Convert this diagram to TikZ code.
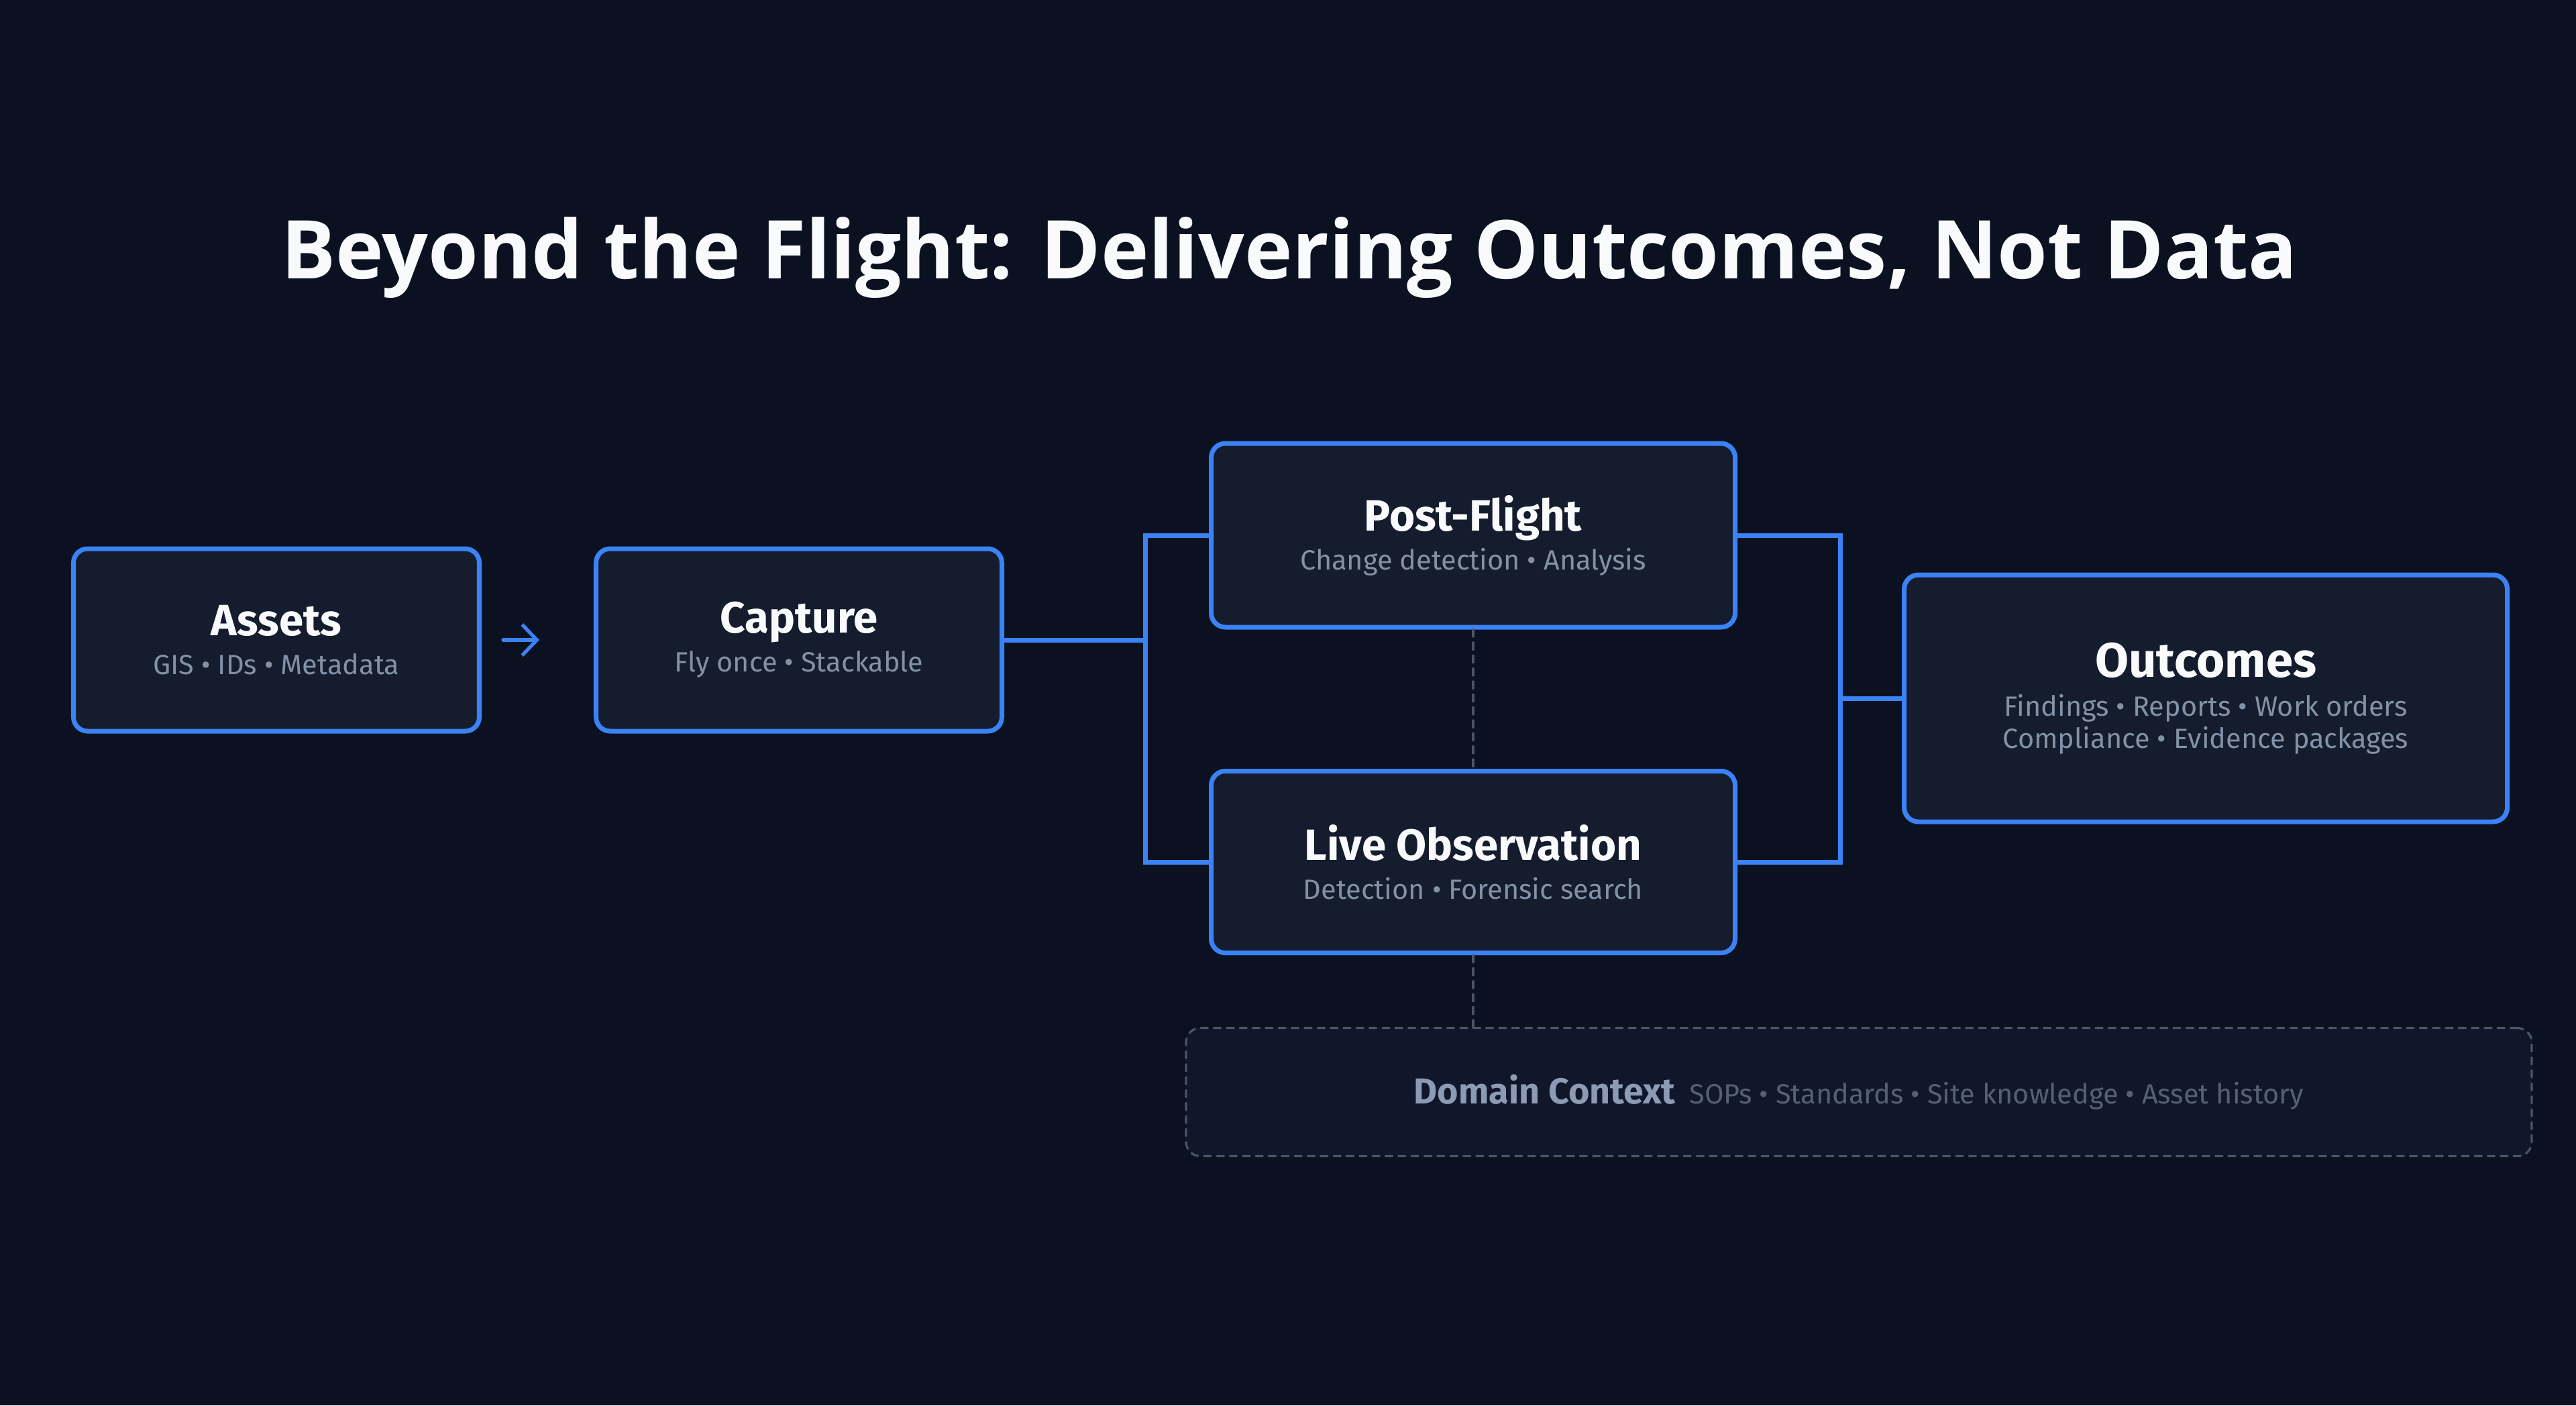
\documentclass[tikz,border=0pt]{standalone}
\usepackage{fontspec}
\setmainfont{Fira Sans}
\setsansfont{Fira Sans}
\newfontfamily\flheadfont{Open Sans}
\usepackage{xcolor}
\usetikzlibrary{arrows.meta,positioning}
\definecolor{flBack}{HTML}{0B1120}
\definecolor{flFill}{HTML}{141C2E}
\definecolor{flAccent}{HTML}{3B82F6}
\definecolor{flInk}{HTML}{F8FAFC}
\definecolor{flMuted}{HTML}{8391A7}
\definecolor{flLine}{HTML}{4B5565}
\definecolor{flCtxFill}{HTML}{10172A}
\definecolor{flCtxHead}{HTML}{8C9AB3}
\definecolor{flCtxText}{HTML}{566073}
\newcommand\flname[1]{{\fontsize{18.6}{20}\selectfont\bfseries\color{flInk}#1}}
\newcommand\flnote[1]{{\fontsize{11.8}{13}\selectfont\color{flMuted}#1}}
\tikzset{
  fl diagram/.style={font=\sffamily, text=flInk,
    line cap=round, line join=round},
  fl box/.style={draw=flAccent, fill=flFill, line width=2pt,
    rounded corners=6pt, align=center, inner sep=0pt,
    minimum width=6.05cm, minimum height=2.72cm,
    font=\fontsize{11.8}{16.5}\selectfont},
  fl wide box/.style={fl box, minimum width=8.99cm, minimum height=3.68cm,
    font=\fontsize{11.8}{13.6}\selectfont},
  fl context/.style={draw=flLine, fill=flCtxFill, line width=0.9pt,
    dash pattern=on 3pt off 2.5pt, rounded corners=6pt, inner sep=0pt,
    minimum width=20.06cm, minimum height=1.91cm},
  fl link/.style={draw=flAccent, line width=2pt, line join=miter, line cap=butt},
  fl arrow/.style={-{Straight Barb[length=2.2mm,width=4.6mm]}, draw=flAccent,
    line width=1.5pt},
  fl dash/.style={draw=flLine, line width=0.9pt, dash pattern=on 3pt off 2.5pt}
}
\begin{document}
\begin{tikzpicture}[fl diagram]
\fill[flBack] (0,0) rectangle (38.4,-20.95);
\useasboundingbox (0,0) rectangle (38.4,-20.95);
% title
\node[font=\flheadfont\fontsize{34.4}{40}\selectfont\bfseries] (title) at (19.22,-3.84) {Beyond the Flight: Delivering Outcomes, Not Data};
% stages
\node[fl box] (assets) at (4.12,-9.54) {\flname{Assets}\\\flnote{GIS • IDs • Metadata}};
\node[fl box] (capture) at (11.91,-9.54) {\flname{Capture}\\\flnote{Fly once • Stackable}};
\node[fl box, minimum width=7.81cm, minimum height=2.74cm] (post) at (21.96,-7.98) {\flname{Post-Flight}\\\flnote{Change detection • Analysis}};
\node[fl box, minimum width=7.81cm, minimum height=2.71cm] (live) at (21.96,-12.85) {\flname{Live Observation}\\\flnote{Detection • Forensic search}};
\node[fl wide box] (outcomes) at (32.88,-10.41) {{\fontsize{20.6}{22}\selectfont\bfseries\color{flInk}Outcomes}\\[3pt]\flnote{Findings • Reports • Work orders}\\\flnote{Compliance • Evidence packages}};
\node[fl context] (context) at (27.71,-16.28) {{\fontsize{15.3}{17}\selectfont\bfseries\color{flCtxHead}Domain Context}\hspace{0.6em}{\fontsize{11.8}{13}\selectfont\color{flCtxText}SOPs • Standards • Site knowledge • Asset history}};
% connectors
\draw[fl arrow, shorten <=0.32cm, shorten >=0.81cm] (assets) -- (capture);
\coordinate (fork) at (17.07,-9.54);
\coordinate (join) at (27.43,-10.41);
\draw[fl link] (capture.east) -- (fork);
\draw[fl link] (post.west) -| (fork) |- (live.west);
\draw[fl link] (post.east) -| (join) |- (live.east);
\draw[fl link] (join) -- (outcomes.west);
\draw[fl dash] (post.south) -- (live.north);
\draw[fl dash] (live.south) -- (live.south |- context.north);
\end{tikzpicture}
\end{document}
